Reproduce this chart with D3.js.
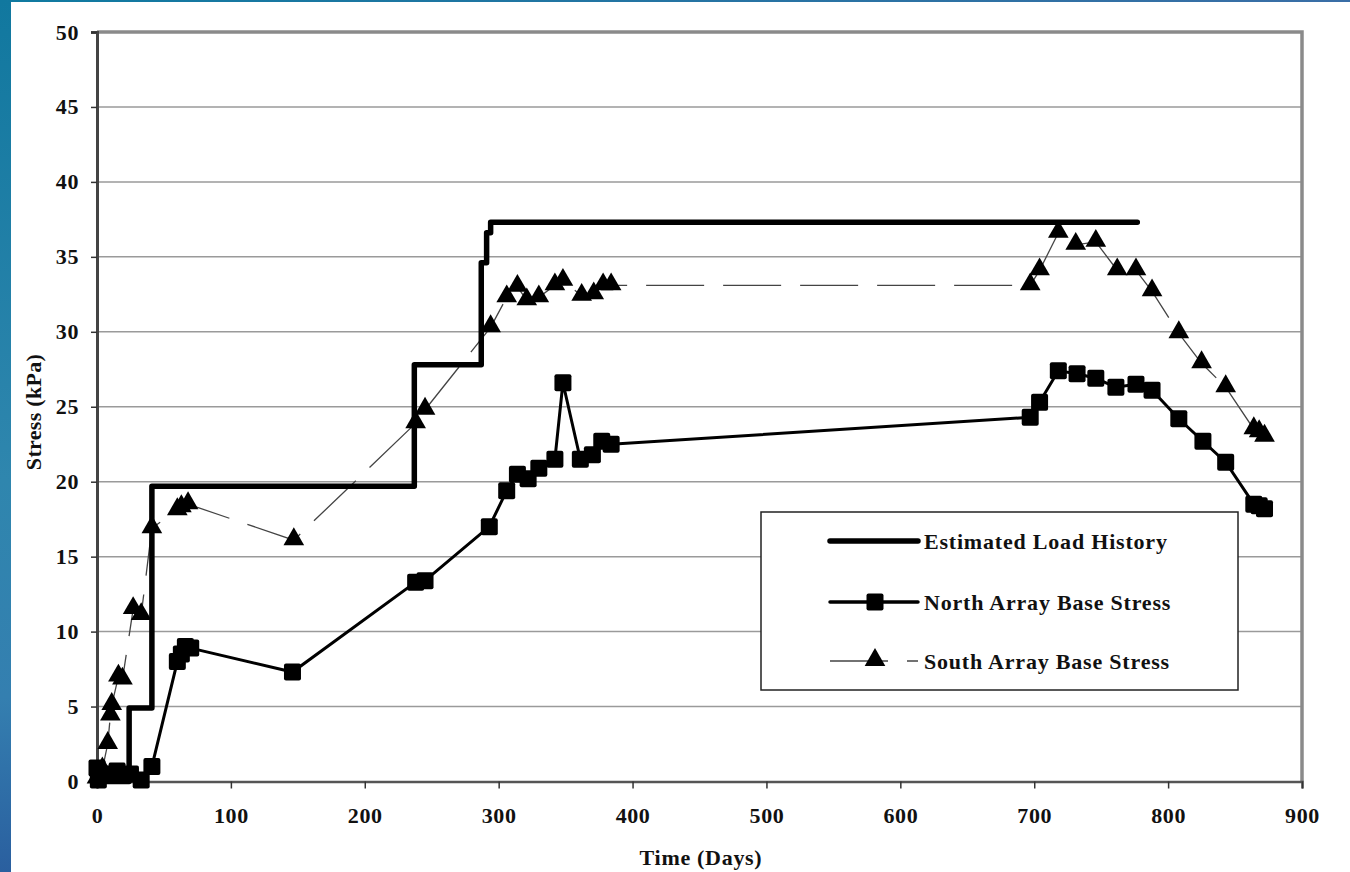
<!DOCTYPE html>
<html>
<head>
<meta charset="utf-8">
<script src="https://cdn.jsdelivr.net/npm/d3@7"></script>
<style>
  html, body { margin: 0; padding: 0; background: #fff; }
  svg { display: block; }
  text { font-family: "Liberation Serif", "Times New Roman", serif; font-weight: bold; fill: #111; }
</style>
</head>
<body>
<svg id="chart" width="1350" height="872"></svg>
<script>
// Estimated load history (step curve): [day, stress kPa]
const loadDays   = [0, 24, 24, 41, 41, 237, 237, 287, 287, 291, 291, 294, 294, 777];
const loadStress = [0, 0, 4.9, 4.9, 19.7, 19.7, 27.8, 27.8, 34.6, 34.6, 36.6, 36.6, 37.3, 37.3];

// North array base stress readings
const northDays   = [0, 1, 4, 15, 18, 25, 33, 41, 60, 63, 66, 70, 146, 238, 245, 293, 306, 314, 322, 330, 342, 348, 361, 370, 377, 384,
                     697, 704, 718, 732, 746, 761, 776, 788, 808, 826, 843, 864, 868, 872];
const northStress = [0.9, 0.1, 0.5, 0.7, 0.4, 0.5, 0.1, 1.0, 8.0, 8.5, 9.0, 8.9, 7.3, 13.3, 13.4, 17.0, 19.4, 20.5, 20.2, 20.9, 21.5, 26.6, 21.5, 21.8, 22.7, 22.5,
                     24.3, 25.3, 27.4, 27.2, 26.9, 26.3, 26.5, 26.1, 24.2, 22.7, 21.3, 18.5, 18.4, 18.2];

// South array base stress readings
const southDays   = [0, 4, 8, 10, 11, 16, 19, 27, 33, 41, 60, 63, 68, 147, 238, 245, 294, 306, 314, 321, 330, 342, 348, 362, 371, 378, 384,
                     697, 704, 718, 731, 746, 762, 776, 788, 808, 825, 843, 864, 868, 872];
const southStress = [0.2, 0.8, 2.5, 4.4, 5.1, 7.0, 6.8, 11.5, 11.1, 16.9, 18.1, 18.3, 18.5, 16.1, 23.9, 24.8, 30.3, 32.3, 33.0, 32.1, 32.3, 33.1, 33.4, 32.4, 32.5, 33.1, 33.1,
                     33.1, 34.1, 36.6, 35.8, 36.0, 34.1, 34.1, 32.7, 29.9, 27.9, 26.3, 23.5, 23.3, 23.0];

const xTicks = [0, 100, 200, 300, 400, 500, 600, 700, 800, 900];
const yTicks = [0, 5, 10, 15, 20, 25, 30, 35, 40, 45, 50];

const seriesNames = ["Estimated Load History", "North Array Base Stress", "South Array Base Stress"];

const svg = d3.select("#chart");
const W = 1350, H = 872;

// Page decoration: blue strip at left edge and thin band along the top
const defs = svg.append("defs");
const gv = defs.append("linearGradient").attr("id", "sideGrad").attr("x1", 0).attr("y1", 0).attr("x2", 0).attr("y2", 1);
gv.append("stop").attr("offset", "0").attr("stop-color", "#11789f");
gv.append("stop").attr("offset", "0.55").attr("stop-color", "#2f86ae");
gv.append("stop").attr("offset", "0.8").attr("stop-color", "#347fb0");
gv.append("stop").attr("offset", "1").attr("stop-color", "#2a5f9f");
const gh = defs.append("linearGradient").attr("id", "topGrad").attr("x1", 0).attr("y1", 0).attr("x2", 1).attr("y2", 0);
gh.append("stop").attr("offset", "0").attr("stop-color", "#0f7aa0");
gh.append("stop").attr("offset", "1").attr("stop-color", "#3a6ea6");

svg.append("rect").attr("x", 0).attr("y", 0).attr("width", W).attr("height", 2).attr("fill", "url(#topGrad)");
svg.append("rect").attr("x", 0).attr("y", 0).attr("width", 11).attr("height", H).attr("fill", "url(#sideGrad)");

// Plot area
const plotL = 97, plotR = 1302, plotT = 32, plotB = 781.5;
const x = d3.scaleLinear().domain([0, 900]).range([plotL, plotR]);
const y = d3.scaleLinear().domain([0, 50]).range([plotB, plotT]);

// Horizontal gridlines
svg.append("g").selectAll("line").data(yTicks.filter(v => v > 0 && v < 50)).join("line")
  .attr("x1", plotL).attr("x2", plotR)
  .attr("y1", d => y(d)).attr("y2", d => y(d))
  .attr("stroke", "#9a9a9a").attr("stroke-width", 1.5);

// Frame: grey top and right edges
svg.append("path")
  .attr("d", `M${plotL},${plotT}H${plotR}V${plotB}`)
  .attr("fill", "none").attr("stroke", "#8a8a8a").attr("stroke-width", 3.5);

// Axes
const xAxis = d3.axisBottom(x).tickValues(xTicks).tickSize(7).tickPadding(19).tickFormat(d3.format("d"));
const yAxis = d3.axisLeft(y).tickValues(yTicks).tickSize(6).tickPadding(12).tickFormat(d3.format("d"));

const gx = svg.append("g").attr("transform", `translate(0,${plotB})`).call(xAxis);
gx.select(".domain").attr("stroke", "#555").attr("stroke-width", 2.5);
gx.selectAll(".tick line").attr("stroke", "#333").attr("stroke-width", 1.5);
gx.selectAll(".tick text").style("font-size", "22px").style("letter-spacing", "0.6px").attr("fill", "#111");

const gy = svg.append("g").attr("transform", `translate(${plotL},0)`).call(yAxis);
gy.select(".domain").attr("stroke", "#444").attr("stroke-width", 3);
gy.selectAll(".tick line").attr("stroke", "#333").attr("stroke-width", 1.5);
gy.selectAll(".tick text").style("font-size", "22px").style("letter-spacing", "0.6px").attr("fill", "#111");

// Axis titles
svg.append("text").attr("x", 701).attr("y", 865).attr("text-anchor", "middle")
  .style("font-size", "22px").style("letter-spacing", "0.7px").text("Time (Days)");
svg.append("text").attr("transform", "translate(41,412) rotate(-90)").attr("text-anchor", "middle")
  .style("font-size", "22px").style("letter-spacing", "0.3px").text("Stress (kPa)");

const line = d3.line().x(d => x(d[0])).y(d => y(d[1]));

const loadData  = loadDays.map((d, i) => [d, loadStress[i]]);
const northData = northDays.map((d, i) => [d, northStress[i]]);
const southData = southDays.map((d, i) => [d, southStress[i]]);

// South array: thin long-dash line with triangles
svg.append("path").datum(southData).attr("d", line)
  .attr("fill", "none").attr("stroke", "#444").attr("stroke-width", 1.3)
  .attr("stroke-dasharray", "58,19");

const tri = d3.symbol().type(d3.symbolTriangle).size(185);
svg.append("g").selectAll("path").data(southData).join("path")
  .attr("d", tri)
  .attr("transform", d => `translate(${x(d[0])},${y(d[1]) - 1})`)
  .attr("fill", "#000");

// Estimated load history: heavy step line
svg.append("path").datum(loadData).attr("d", line)
  .attr("fill", "none").attr("stroke", "#000").attr("stroke-width", 5.5)
  .attr("stroke-linejoin", "round").attr("stroke-linecap", "round");

// North array: solid line with squares
svg.append("path").datum(northData).attr("d", line)
  .attr("fill", "none").attr("stroke", "#000").attr("stroke-width", 3);
svg.append("g").selectAll("rect").data(northData).join("rect")
  .attr("x", d => x(d[0]) - 8.5).attr("y", d => y(d[1]) - 8.5)
  .attr("width", 17).attr("height", 17).attr("rx", 2)
  .attr("fill", "#000");

// Legend
const lg = svg.append("g");
lg.append("rect").attr("x", 761).attr("y", 512).attr("width", 477).attr("height", 178)
  .attr("fill", "#fff").attr("stroke", "#222").attr("stroke-width", 1.5);

const rowsY = [541, 602, 661];
const lx1 = 830, lx2 = 920, lmid = 875;

lg.append("line").attr("x1", lx1).attr("x2", lx2 - 2).attr("y1", rowsY[0]).attr("y2", rowsY[0])
  .attr("stroke", "#000").attr("stroke-width", 5.5).attr("stroke-linecap", "round");

lg.append("line").attr("x1", lx1).attr("x2", lx2 - 2).attr("y1", rowsY[1]).attr("y2", rowsY[1])
  .attr("stroke", "#000").attr("stroke-width", 3.5).attr("stroke-linecap", "round");
lg.append("rect").attr("x", lmid - 8.5).attr("y", rowsY[1] - 8.5).attr("width", 17).attr("height", 17)
  .attr("rx", 2).attr("fill", "#000");

lg.append("line").attr("x1", lx1).attr("x2", lx2 - 2).attr("y1", rowsY[2]).attr("y2", rowsY[2])
  .attr("stroke", "#444").attr("stroke-width", 1.3).attr("stroke-dasharray", "58,19");
lg.append("path").attr("d", tri).attr("transform", `translate(${lmid},${rowsY[2] - 1})`).attr("fill", "#000");

lg.selectAll("text.lab").data(seriesNames).join("text")
  .attr("class", "lab")
  .attr("x", 924).attr("y", (d, i) => rowsY[i] + 8)
  .style("font-size", "22px").style("letter-spacing", "0.8px")
  .text(d => d);
</script>
</body>
</html>
